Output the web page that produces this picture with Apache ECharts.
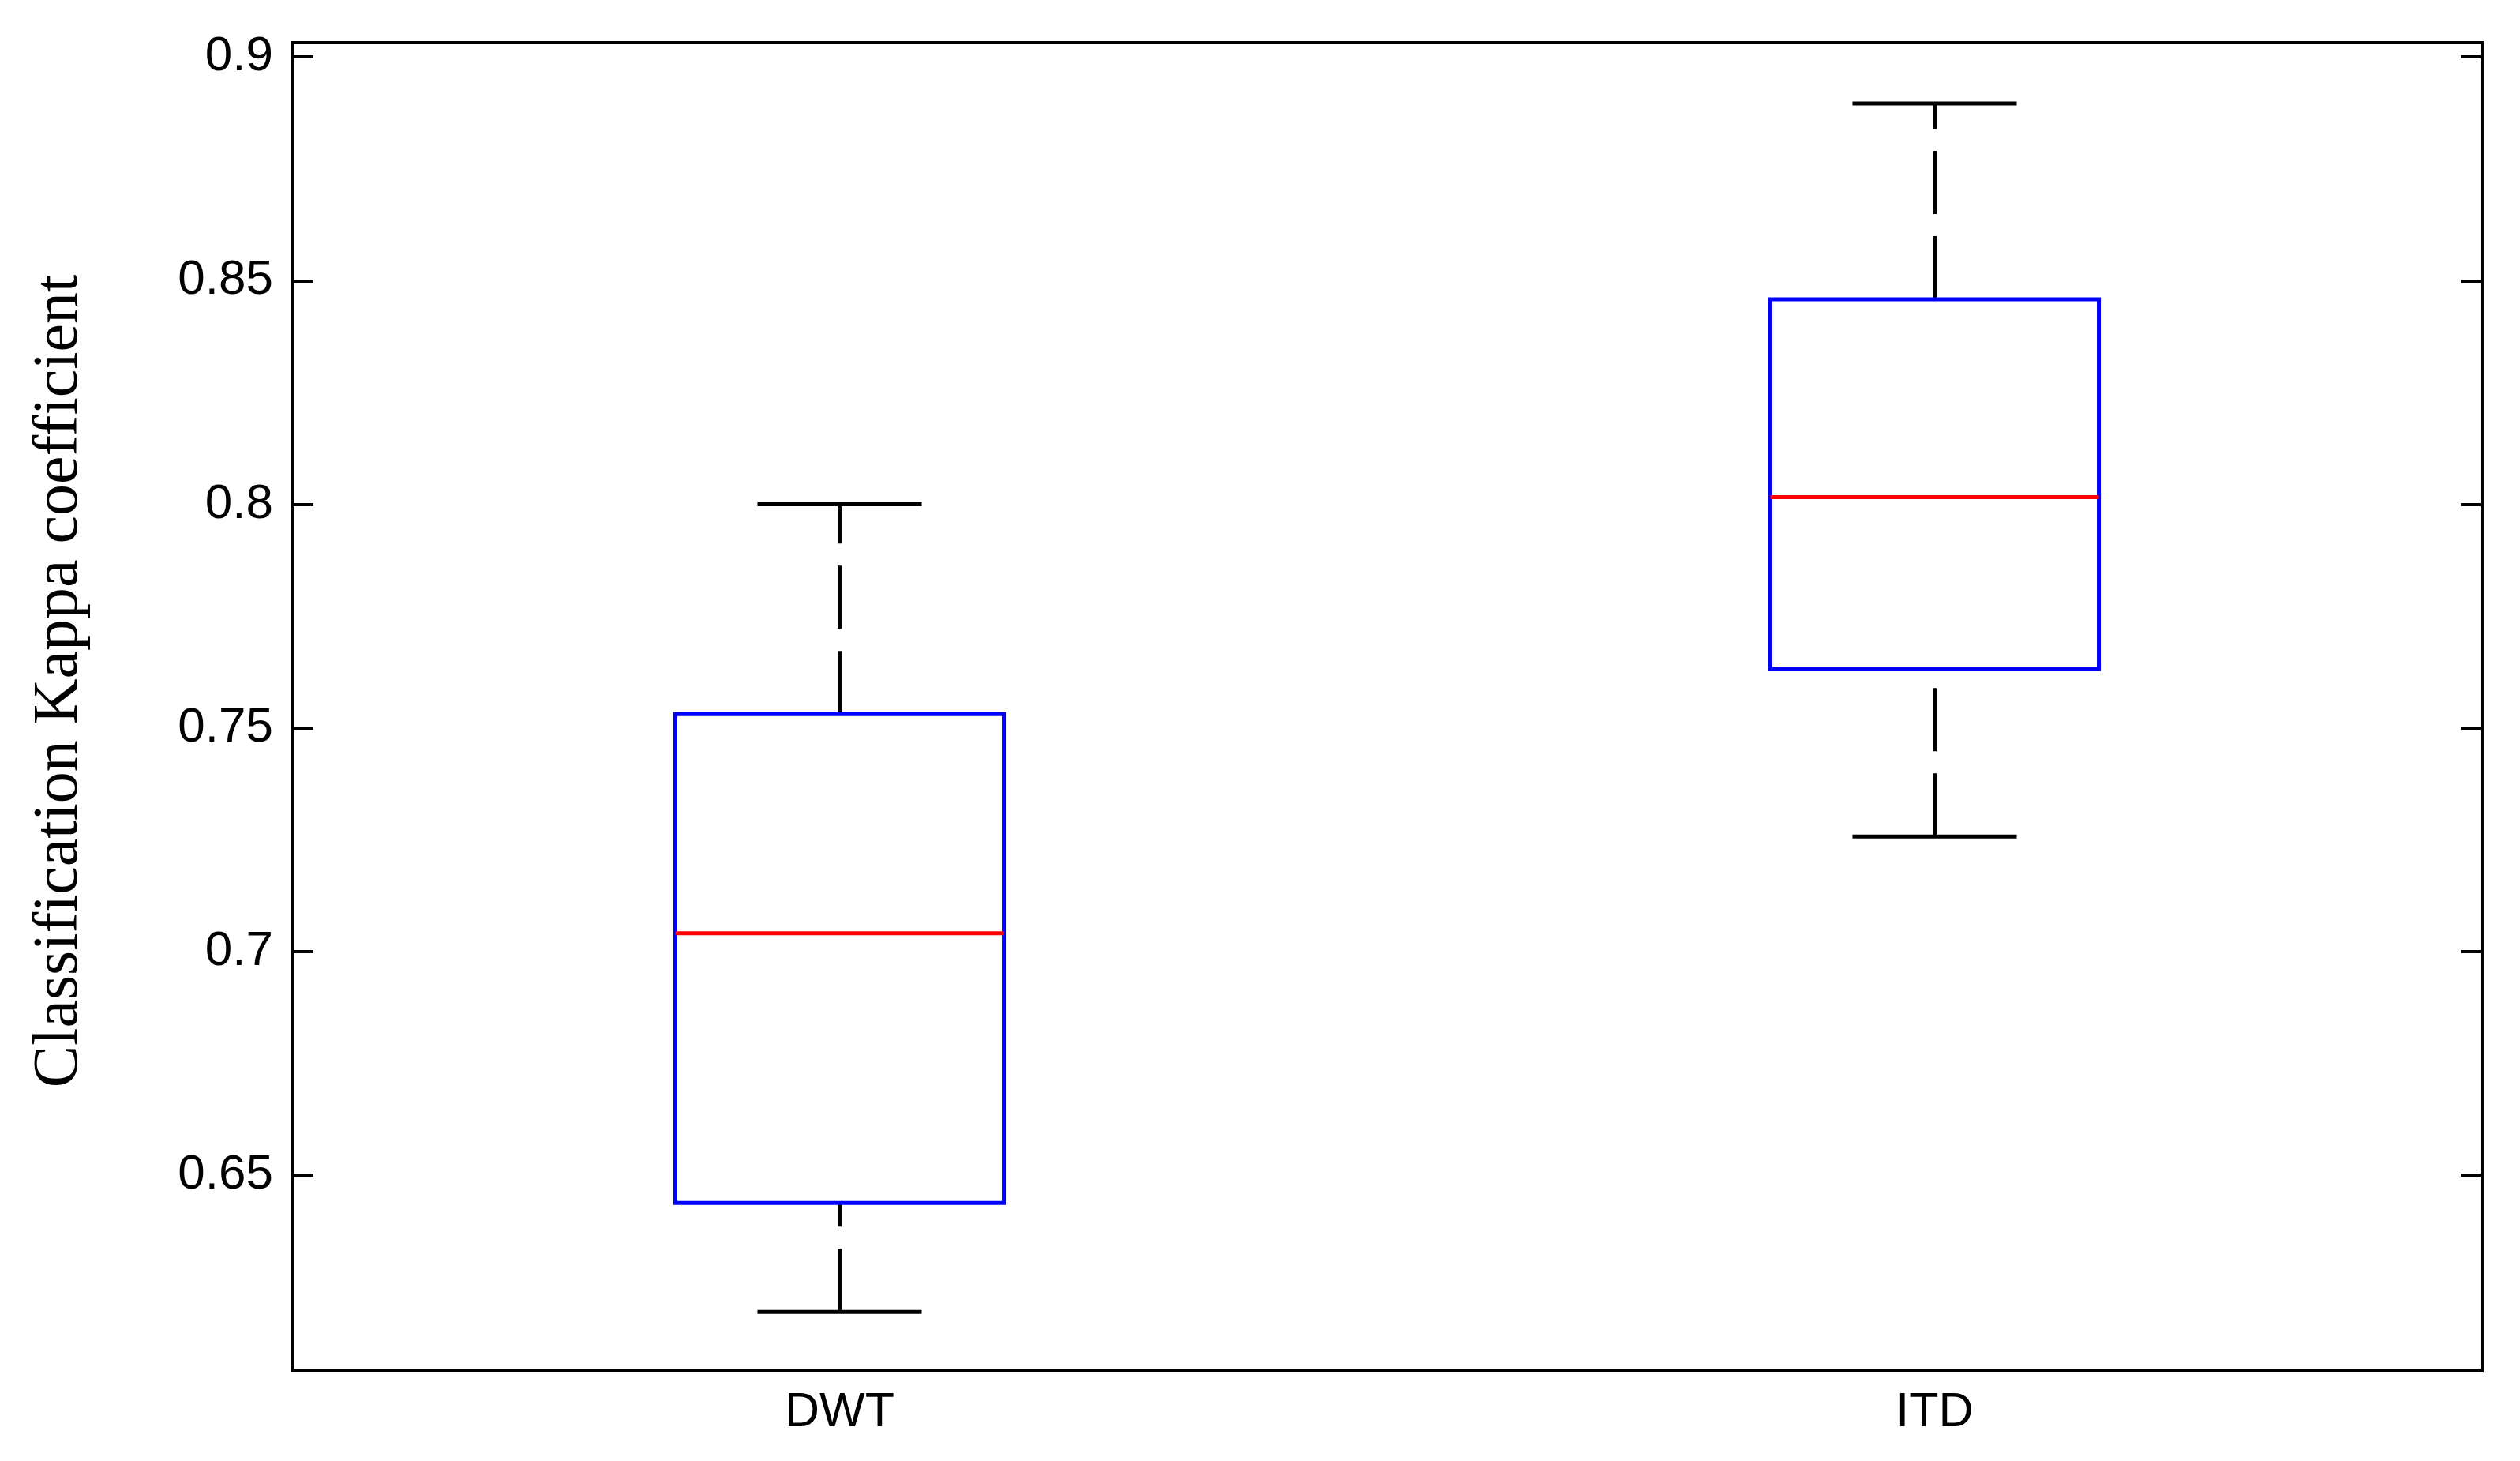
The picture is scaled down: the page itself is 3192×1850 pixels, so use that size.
<!DOCTYPE html>
<html>
<head>
<meta charset="utf-8">
<title>Classification Kappa coefficient</title>
<script src="https://cdn.jsdelivr.net/npm/echarts@6.0.0/dist/echarts.min.js"></script>
<style>
  html, body { margin: 0; padding: 0; background: #fff; }
  #chart { width: 3192px; height: 1850px; }
</style>
</head>
<body>
<div id="chart"></div>
<script>
// box statistics
var categories = ['DWT', 'ITD'];
var whiskerLow = [0.6194, 0.7257];
var q1 = [0.6438, 0.7631];
var median = [0.7041, 0.8016];
var q3 = [0.7531, 0.8458];
var whiskerHigh = [0.8000, 0.8896];
var yTicks = [0.65, 0.7, 0.75, 0.8, 0.85, 0.9];

var yMin = 0.6064, yMax = 0.9032;

var boxData = categories.map(function (c, i) {
  return [i, whiskerLow[i], q1[i], median[i], q3[i], whiskerHigh[i]];
});

function renderBox(params, api) {
  var idx = api.value(0);
  var pLo = api.coord([idx, api.value(1)]);
  var pQ1 = api.coord([idx, api.value(2)]);
  var pMed = api.coord([idx, api.value(3)]);
  var pQ3 = api.coord([idx, api.value(4)]);
  var pHi = api.coord([idx, api.value(5)]);
  var band = api.size([1, 0])[0];
  var cx = pMed[0];
  var halfBox = band * 0.15;
  var halfCap = band * 0.075;
  var black = { stroke: '#000', lineWidth: 5, lineCap: 'butt' };
  var dashed = { stroke: '#000', lineWidth: 5, lineCap: 'butt', lineDash: [80, 28] };
  return {
    type: 'group',
    children: [
      // whiskers drawn upward so the dash starts at the lower end
      { type: 'line', shape: { x1: cx, y1: pLo[1], x2: cx, y2: pQ1[1] }, style: dashed },
      { type: 'line', shape: { x1: cx, y1: pQ3[1], x2: cx, y2: pHi[1] }, style: dashed },
      { type: 'line', shape: { x1: cx - halfCap, y1: pLo[1], x2: cx + halfCap, y2: pLo[1] }, style: black },
      { type: 'line', shape: { x1: cx - halfCap, y1: pHi[1], x2: cx + halfCap, y2: pHi[1] }, style: black },
      {
        type: 'rect',
        shape: { x: cx - halfBox, y: pQ3[1], width: halfBox * 2, height: pQ1[1] - pQ3[1] },
        style: { fill: 'none', stroke: '#0000ff', lineWidth: 5 }
      },
      { type: 'line', shape: { x1: cx - halfBox, y1: pMed[1], x2: cx + halfBox, y2: pMed[1] }, style: { stroke: '#ff0000', lineWidth: 5 } }
    ]
  };
}

var chart = echarts.init(document.getElementById('chart'));
var option = {
  backgroundColor: '#fff',
  animation: false,
  grid: {
    left: 370,
    right: 48,
    top: 54,
    bottom: 115,
    show: true,
    borderColor: '#000',
    borderWidth: 4,
    backgroundColor: 'transparent'
  },
  xAxis: {
    type: 'category',
    data: categories,
    boundaryGap: true,
    axisLine: { show: false },
    axisTick: { show: false },
    splitLine: { show: false },
    axisLabel: {
      color: '#000',
      fontSize: 61,
      fontFamily: 'Liberation Sans, Arial, sans-serif',
      margin: 24
    }
  },
  yAxis: [{
    type: 'value',
    min: yMin,
    max: yMax,
    position: 'left',
    name: 'Classification Kappa coefficient',
    nameLocation: 'middle',
    nameRotate: 90,
    nameGap: 254,
    nameTextStyle: {
      color: '#000',
      fontSize: 80,
      fontFamily: 'Liberation Serif, Times New Roman, serif',
      padding: [0, 0, 0, 64]
    },
    axisLine: { show: false },
    splitLine: { show: false },
    axisTick: {
      show: true,
      inside: true,
      length: 27,
      customValues: yTicks,
      lineStyle: { color: '#000', width: 4 }
    },
    axisLabel: {
      color: '#000',
      fontSize: 62,
      fontFamily: 'Liberation Sans, Arial, sans-serif',
      margin: 24,
      customValues: yTicks
    }
  }, {
    type: 'value',
    min: yMin,
    max: yMax,
    position: 'right',
    axisLine: { show: false },
    splitLine: { show: false },
    axisLabel: { show: false },
    axisTick: {
      show: true,
      inside: true,
      length: 27,
      customValues: yTicks,
      lineStyle: { color: '#000', width: 4 }
    }
  }],
  series: [{
    type: 'custom',
    name: 'Kappa',
    renderItem: renderBox,
    yAxisIndex: 0,
    encode: { x: 0, y: [1, 2, 3, 4, 5] },
    data: boxData,
    clip: false
  }]
};
chart.setOption(option);
window.addEventListener('resize', function () {
  chart.resize();
});
</script>
</body>
</html>
